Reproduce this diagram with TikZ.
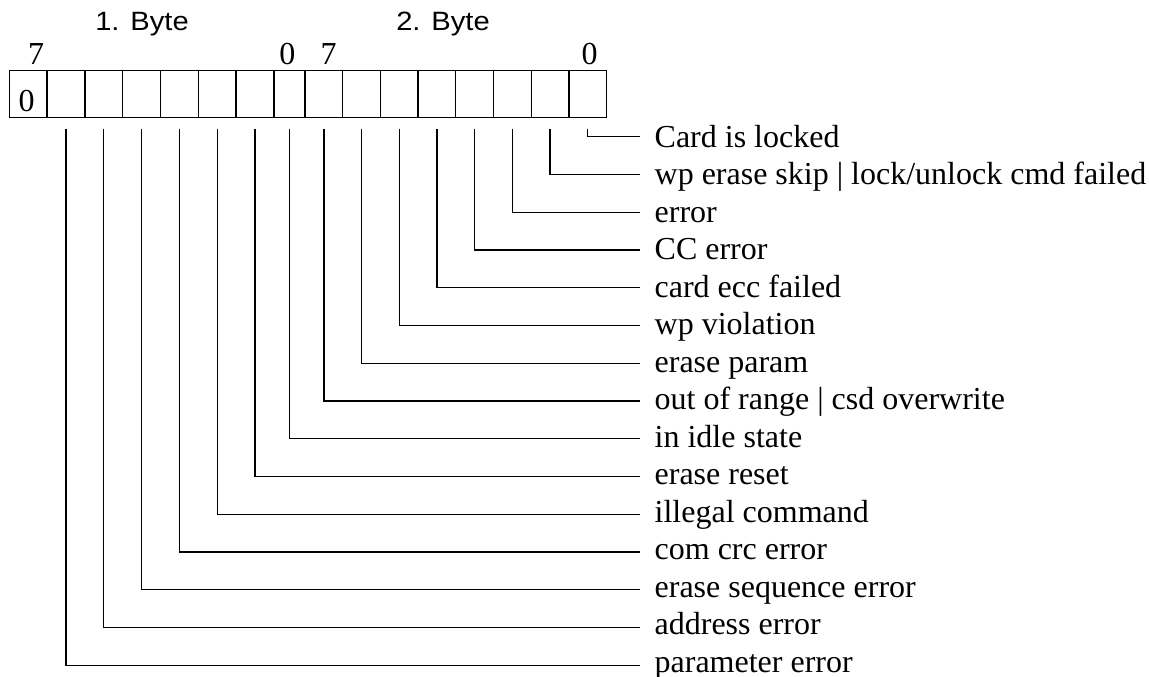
\documentclass[tikz,border=0pt]{standalone}
\usepackage{fontspec}
\setmainfont{Liberation Serif}
\newfontfamily\bytefont[FakeStretch=1.1]{Liberation Sans}
\usetikzlibrary{calc}

\begin{document}
\begin{tikzpicture}[x=1pt,y=1pt,line width=1.3pt,
	bitcell/.style={draw, minimum height=47pt, minimum width=37.8pt, outer sep=0pt, inner sep=0pt},
	bitnum/.style={anchor=base, inner sep=0pt, font=\fontsize{32}{38}\selectfont},
	bytelbl/.style={anchor=base, inner sep=0pt, font=\bytefont\fontsize{26.5}{31}\selectfont},
	flag/.style={anchor=base west, inner sep=0pt, font=\fontsize{32}{38}\selectfont}]
	\useasboundingbox (0,0) rectangle (1149,-677);
	\foreach \i in {1,...,7}{\node[bitcell] (c\i) at ({9.3+37.8*(\i-0.5)},-94.2) {};}
	\node[bitcell, minimum width=31.1pt] (c8) at (289.45,-94.2) {};
	\foreach \i in {9,...,16}{\node[bitcell, minimum width=37.7pt] (c\i) at ({305+37.7*(\i-8.5)},-94.2) {};}
	\node[bitnum] (hi1) at ($(c1.north)+(8,5.7)$) {7};
	\node[bitnum] (lo1) at ($(c8.north)+(-2,5.7)$) {0};
	\node[bitnum] (hi2) at ($(c9.north)+(4.7,5.7)$) {7};
	\node[bitnum] (lo2) at ($(c16.north)+(1.8,5.7)$) {0};
	\node[bitnum] (fix) at ($(c1.south)+(-1.7,6)$) {0};
	\node[bytelbl] (byte1) at (142,-31) {1. Byte};
	\node[bytelbl] (byte2) at (443,-31) {2. Byte};
	\foreach \i/\txt in {0/Card is locked, 1/{wp erase skip | lock/unlock cmd failed}, 2/error, 3/CC error,
		4/card ecc failed, 5/wp violation, 6/erase param, 7/out of range | csd overwrite, 8/in idle state,
		9/erase reset, 10/illegal command, 11/com crc error, 12/erase sequence error, 13/address error,
		14/parameter error}{
		\pgfmathtruncatemacro\cellno{16-\i}
		\node[flag] (f\i) at (654,{-147.3-37.48*\i}) {\txt};
		\draw ($(c\cellno.south)+(0,-11)$) |- ($(f\i.base west)+(-14,{10.6-0.28*\i})$);
	}
\end{tikzpicture}
\end{document}
